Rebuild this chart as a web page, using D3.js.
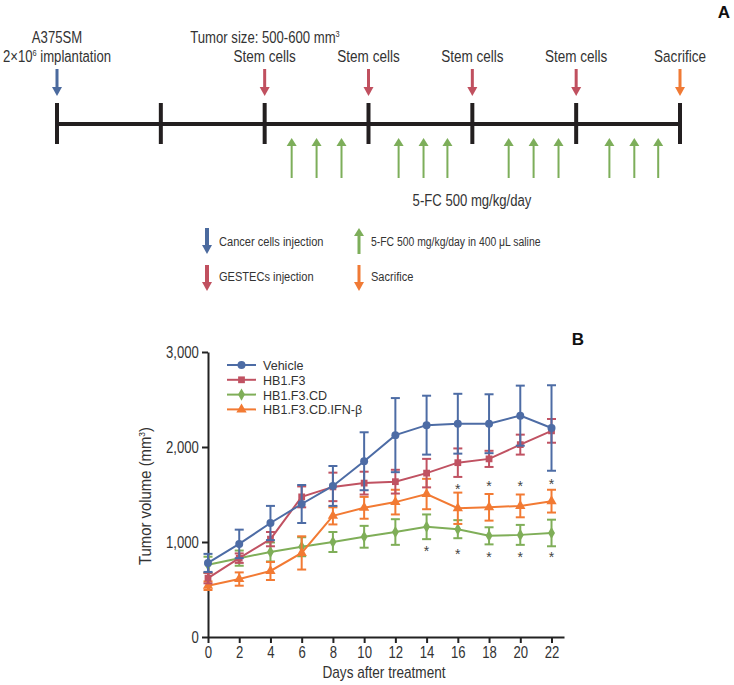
<!DOCTYPE html>
<html>
<head>
<meta charset="utf-8">
<script src="https://cdn.jsdelivr.net/npm/d3@7/dist/d3.min.js"></script>
<style>
  body { margin: 0; background: #fff; }
  svg text { font-family: 'Liberation Sans', Arial, sans-serif; fill: #333; }
</style>
</head>
<body>
<div id="viz"></div>
<script>
// ---- timeline (panel A), positions in weeks ----
const weekTicks = [0, 1, 2, 3, 4, 5, 6];
const stemWeeks = [2, 3, 4, 5];
const fcWeeks = [2.26, 2.5, 2.74, 3.29, 3.53, 3.76, 4.35, 4.59, 4.83, 5.32, 5.56, 5.79];

// ---- tumour growth (panel B) ----
const days = [0, 2, 4, 6, 8, 10, 12, 14, 16, 18, 20, 22];
const seriesNames = ['Vehicle', 'HB1.F3', 'HB1.F3.CD', 'HB1.F3.CD.IFN-β'];
const vehicle = [780, 980, 1200, 1400, 1590, 1850, 2125, 2230, 2245, 2245, 2330, 2200];
const vehicleErr = [95, 150, 180, 200, 210, 305, 390, 310, 315, 310, 316, 450];
const hb1f3 = [620, 830, 1030, 1475, 1580, 1620, 1635, 1725, 1835, 1875, 2025, 2170];
const hb1f3Err = [55, 50, 75, 110, 150, 120, 125, 150, 150, 85, 105, 125];
const hb1f3cd = [760, 830, 895, 950, 1000, 1055, 1105, 1160, 1135, 1065, 1075, 1095];
const hb1f3cdErr = [85, 80, 100, 100, 105, 115, 135, 130, 95, 90, 105, 140];
const ifnb = [540, 610, 695, 885, 1275, 1360, 1420, 1505, 1355, 1365, 1380, 1430];
const ifnbErr = [45, 70, 95, 175, 90, 115, 130, 160, 165, 140, 120, 120];
const starDaysUpper = [16, 18, 20, 22];
const starValsUpper = [1580, 1610, 1610, 1630];
const starDaysLower = [14, 16, 18, 20, 22];
const starValsLower = [930, 895, 860, 860, 860];
const yTicks = [0, 1000, 2000, 3000];
const xTicks = days;

const colors = ['#4d6ca5', '#c05262', '#7fae58', '#f27a33'];
const arrowCol = { blue: '#4b6a9e', red: '#c0505f', green: '#7dae5a', orange: '#f07a35' };

const svg = d3.select('#viz').append('svg')
  .attr('width', 734)
  .attr('height', 685);

// narrow text: the original uses a condensed face, squeeze Liberation Sans instead
function ctext(parent, x, y, size, anchor, sx, rot) {
  const g = parent.append('g')
    .attr('transform', `translate(${x},${y})${rot ? ` rotate(${rot})` : ''} scale(${sx},1)`);
  return g.append('text')
    .attr('text-anchor', anchor)
    .style('font-size', `${size}px`);
}

function downArrow(g, x, y0, y1, col, shaft) {
  const hw = 5, hh = 9;
  g.append('rect')
    .attr('x', x - shaft / 2).attr('y', y0)
    .attr('width', shaft).attr('height', y1 - y0 - hh + 1)
    .attr('fill', col);
  g.append('path')
    .attr('d', `M${x - hw},${y1 - hh} L${x + hw},${y1 - hh} L${x},${y1} Z`)
    .attr('fill', col);
}

function upArrow(g, x, y0, y1, col, shaft) {
  const hw = 5, hh = 8;
  g.append('rect')
    .attr('x', x - shaft / 2).attr('y', y0 + hh - 1)
    .attr('width', shaft).attr('height', y1 - y0 - hh + 1)
    .attr('fill', col);
  g.append('path')
    .attr('d', `M${x - hw},${y0 + hh} L${x + hw},${y0 + hh} L${x},${y0} Z`)
    .attr('fill', col);
}

// ---------- Panel A ----------
const tl = svg.append('g');
const wx = d3.scaleLinear().domain([0, 6]).range([57, 680]);

tl.append('line')
  .attr('x1', wx(0)).attr('x2', wx(6))
  .attr('y1', 124).attr('y2', 124)
  .attr('stroke', '#231f20').attr('stroke-width', 4);

tl.selectAll('.wtick')
  .data(weekTicks)
  .enter()
  .append('line')
  .attr('x1', d => wx(d)).attr('x2', d => wx(d))
  .attr('y1', 103).attr('y2', 144)
  .attr('stroke', '#231f20').attr('stroke-width', 4);

downArrow(tl, wx(0), 69, 96, arrowCol.blue, 3);
stemWeeks.forEach(w => downArrow(tl, wx(w), 69, 96, arrowCol.red, 3));
downArrow(tl, wx(6), 69, 96, arrowCol.orange, 3);
fcWeeks.forEach(w => upArrow(tl, wx(w), 138, 178, arrowCol.green, 2));

ctext(tl, wx(0), 43, 16, 'middle', 0.82).text('A375SM');
const impl = ctext(tl, wx(0), 62, 16, 'middle', 0.82);
impl.append('tspan').text('2×10');
impl.append('tspan').attr('dy', -6).style('font-size', '9px').text('6');
impl.append('tspan').attr('dy', 6).text(' implantation');

const tumor = ctext(tl, 265, 43, 16, 'middle', 0.82);
tumor.append('tspan').text('Tumor size: 500-600 mm');
tumor.append('tspan').attr('dy', -6).style('font-size', '9px').text('3');

stemWeeks.forEach(w => ctext(tl, wx(w), 62, 16.5, 'middle', 0.82).text('Stem cells'));
ctext(tl, wx(6), 62, 16.5, 'middle', 0.82).text('Sacrifice');
ctext(tl, 472, 206, 16, 'middle', 0.82).text('5-FC 500 mg/kg/day');

tl.append('text').attr('x', 724).attr('y', 18)
  .attr('text-anchor', 'middle').style('font-size', '17px').style('font-weight', 'bold')
  .style('fill', '#111').text('A');

// legend of panel A
const la = svg.append('g');
downArrow(la, 207, 228, 254, arrowCol.blue, 4);
downArrow(la, 207, 265, 291, arrowCol.red, 4);
upArrow(la, 359, 228, 254, arrowCol.green, 3);
downArrow(la, 359, 265, 291, arrowCol.orange, 3);
const laText = [
  { x: 219, y: 246, t: 'Cancer cells injection', sx: 0.82 },
  { x: 219, y: 281, t: 'GESTECs injection', sx: 0.82 },
  { x: 371, y: 246, t: '5-FC 500 mg/kg/day in 400 μL saline', sx: 0.77 },
  { x: 371, y: 281, t: 'Sacrifice', sx: 0.82 },
];
laText.forEach(d => ctext(la, d.x, d.y, 13.5, 'start', d.sx).text(d.t));

// ---------- Panel B ----------
const x = d3.scaleLinear().domain([0, 22.8]).range([208, 564]);
const y = d3.scaleLinear().domain([0, 3000]).range([637, 352]);

const xAxis = svg.append('g')
  .attr('transform', 'translate(0,637)')
  .call(d3.axisBottom(x).tickValues(xTicks).tickSize(6).tickPadding(4).tickSizeOuter(0));
const yAxis = svg.append('g')
  .attr('transform', 'translate(208,0)')
  .call(d3.axisLeft(y).tickValues(yTicks).tickSize(6).tickPadding(4).tickSizeOuter(0)
    .tickFormat(d3.format(',')));

[xAxis, yAxis].forEach(a => {
  a.select('.domain').attr('stroke', '#222').attr('stroke-width', 2);
  a.selectAll('.tick line').attr('stroke', '#222').attr('stroke-width', 2);
  a.selectAll('.tick text').style('font-size', '16px').style('fill', '#333')
    .style('font-family', "'Liberation Sans', Arial, sans-serif");
});
xAxis.selectAll('.tick text').attr('transform', 'scale(0.82,1)');
yAxis.selectAll('.tick text').attr('x', -10).attr('transform', 'translate(-1,0) scale(0.82,1)');

ctext(svg, 384, 678, 16, 'middle', 0.85).text('Days after treatment');

const yl = ctext(svg, 151, 496, 16, 'middle', 0.93, -90);
yl.append('tspan').text('Tumor volume (mm');
yl.append('tspan').attr('dy', -6).style('font-size', '9px').text('3');
yl.append('tspan').attr('dy', 6).text(')');

svg.append('text').attr('x', 578).attr('y', 345)
  .attr('text-anchor', 'middle').style('font-size', '17px').style('font-weight', 'bold')
  .style('fill', '#111').text('B');

const seriesVals = [vehicle, hb1f3, hb1f3cd, ifnb];
const seriesErr = [vehicleErr, hb1f3Err, hb1f3cdErr, ifnbErr];
const symbols = [d3.symbolCircle, d3.symbolSquare, d3.symbolDiamond, d3.symbolTriangle];
const symSizes = [50, 46, 42, 46];

const line = d3.line()
  .x(d => x(d.day))
  .y(d => y(d.v));

// draw order: green, orange, red, blue (blue on top)
[2, 3, 1, 0].forEach(i => {
  const pts = days.map((day, k) => ({ day, v: seriesVals[i][k], e: seriesErr[i][k] }));
  const g = svg.append('g');
  const col = colors[i];

  const eb = g.selectAll('.eb')
    .data(pts)
    .enter()
    .append('g');
  eb.append('line')
    .attr('x1', d => x(d.day)).attr('x2', d => x(d.day))
    .attr('y1', d => y(d.v - d.e)).attr('y2', d => y(d.v + d.e))
    .attr('stroke', col).attr('stroke-width', 2);
  eb.append('line')
    .attr('x1', d => x(d.day) - 4.5).attr('x2', d => x(d.day) + 4.5)
    .attr('y1', d => y(d.v + d.e)).attr('y2', d => y(d.v + d.e))
    .attr('stroke', col).attr('stroke-width', 2);
  eb.append('line')
    .attr('x1', d => x(d.day) - 4.5).attr('x2', d => x(d.day) + 4.5)
    .attr('y1', d => y(d.v - d.e)).attr('y2', d => y(d.v - d.e))
    .attr('stroke', col).attr('stroke-width', 2);

  g.append('path')
    .datum(pts)
    .attr('d', line)
    .attr('fill', 'none')
    .attr('stroke', col)
    .attr('stroke-width', 2);

  g.selectAll('.pt')
    .data(pts)
    .enter()
    .append('path')
    .attr('d', d3.symbol().type(symbols[i]).size(symSizes[i]))
    .attr('transform', d => `translate(${x(d.day)},${y(d.v)})`)
    .attr('fill', col);
});

// significance asterisks
const stars = starDaysUpper.map((d, k) => ({ d, v: starValsUpper[k] }))
  .concat(starDaysLower.map((d, k) => ({ d, v: starValsLower[k] })));
svg.selectAll('.star')
  .data(stars)
  .enter()
  .append('text')
  .attr('x', d => x(d.d)).attr('y', d => y(d.v) + 7)
  .attr('text-anchor', 'middle')
  .style('font-size', '14px').style('fill', '#444')
  .text('*');

// chart legend
const lg = svg.append('g');
seriesNames.forEach((name, i) => {
  const ly = 365 + i * 14.8;
  lg.append('line')
    .attr('x1', 227).attr('x2', 256).attr('y1', ly).attr('y2', ly)
    .attr('stroke', colors[i]).attr('stroke-width', 2);
  lg.append('path')
    .attr('d', d3.symbol().type(symbols[i]).size(symSizes[i]))
    .attr('transform', `translate(241.5,${ly})`)
    .attr('fill', colors[i]);
  ctext(lg, 263, ly + 5, 13.5, 'start', 0.93).text(name);
});
</script>
</body>
</html>
